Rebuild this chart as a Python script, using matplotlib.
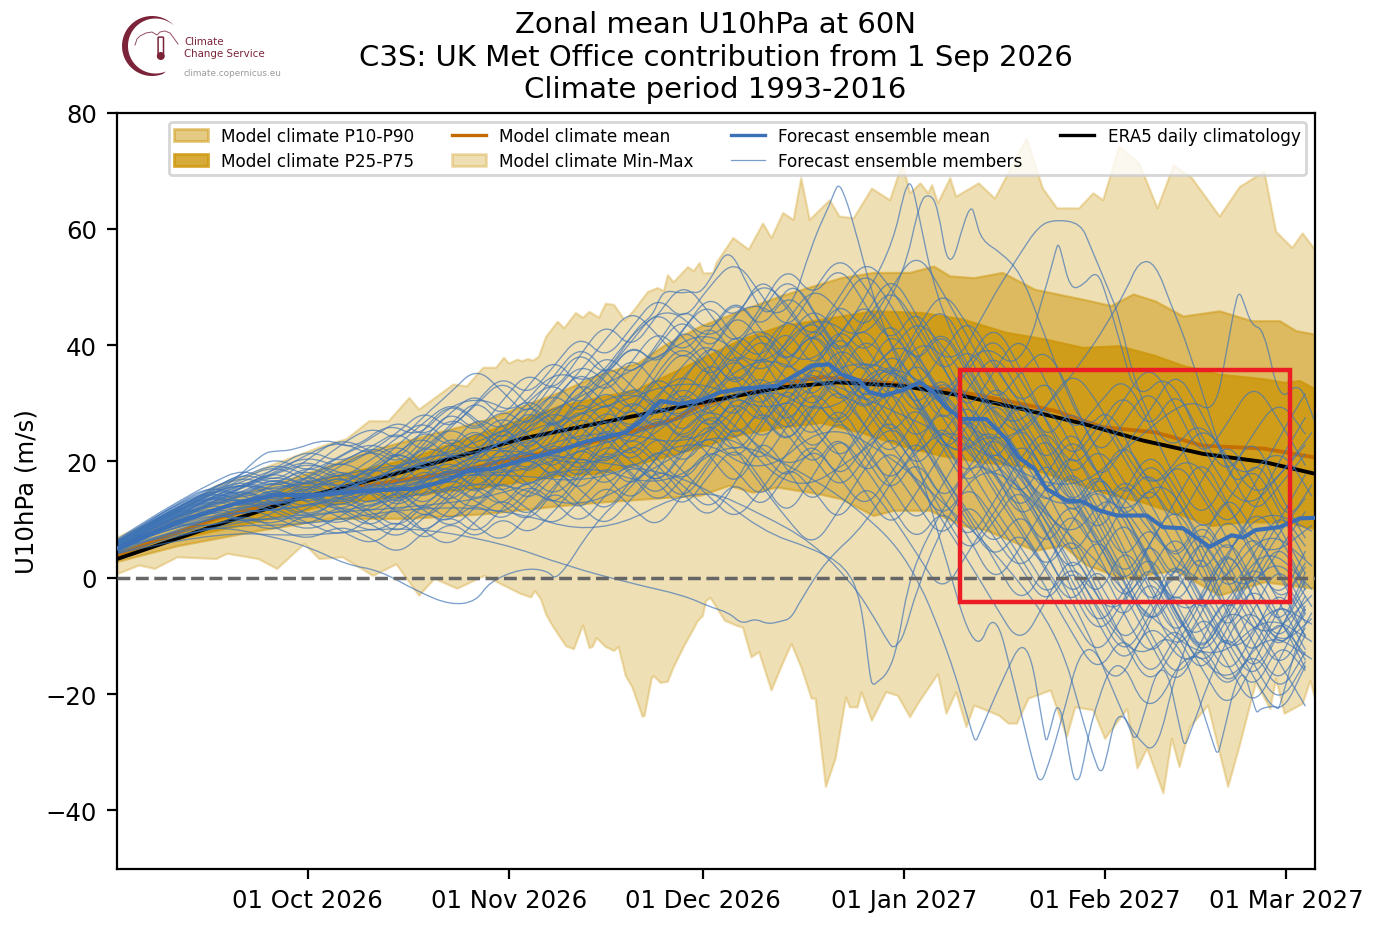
#!/usr/bin/env python
import numpy as np
import pandas as pd
import matplotlib
matplotlib.use('Agg')
import matplotlib.pyplot as plt
import matplotlib.dates as mdates
from matplotlib.patches import Patch, PathPatch, Rectangle, Circle, FancyBboxPatch
from matplotlib.path import Path
from matplotlib.lines import Line2D

# all series are (days since 1 Sep 2026, m/s)
max_days = [0.5,5.7,11,15.8,20.5,24,28.8,32.9,35.9,39.4,42.4,45.6,47.1,52.4,54.5,57,59,60.2,61,62.3,63,63.9,64.7,65.6,66.7,68.5,69.5,71.3,72.4,73.4,74.9,75.9,77.2,78.9,80.3,82.4,83.9,84.9,85.5,86.4,88.6,89.5,90.4,91,92.5,93,95.6,98,100.2,101.5,103.3,104.9,106.1,107.4,110.5,112,114.2,117,119.8,121.7,122.9,124.5,125.7,126.3,127.2,129.1,130,133.5,136,140.9,143.4,145.6,149,151.2,152.7,155.2,158.3,161.1,163.6,166.4,168.5,170.7,173.8,177.6,179.4,181.9,183.5,185.4]
max_vals = [7,9.6,12.4,15.9,17.6,19.3,21.3,23,23.9,27,27,31,29,33.3,33,36.2,36.2,37.9,36.9,37.6,37.3,37.7,37.4,38.1,41.5,44.1,43,45.6,44.8,45.8,44.8,47.2,47,44.3,46.1,49.2,49.9,49.4,52.1,50.9,53.5,52.8,54.2,52.4,52.5,54.2,58.5,56.5,61,58.5,62.8,61.6,68.8,61.6,65,62.2,61.9,67,65,71.3,66.2,67.9,66.2,67.6,64.5,68.8,65.6,67.9,65.3,75.6,67,63.6,63.6,66.2,65,74.2,71.3,63.6,71,68.8,65.6,62.2,67.3,69.9,59.6,56.8,59.3,56.5]
min_days = [0.5,3.9,6.3,9.8,15.8,17.5,22.3,25.2,29.4,31.7,35.3,40,43.6,47.1,49.5,53,57.2,62.8,64.4,65,65.9,66.7,67.7,69.8,71,72.4,73.4,73.9,74.5,75.9,77.2,77.9,79,80,81.6,81.9,83,83.3,84.4,85.5,86.4,88,89.5,90.1,90.9,91.4,92.1,94.3,96.2,97.1,98.4,99.6,101.5,103.3,104.6,106.1,107.7,108.3,109.9,111.4,113,113.6,114.8,115.4,117,119.2,121,122.9,124.1,127.2,128.5,130,131.6,132.8,136.6,138.1,139.4,141.2,144.6,147.1,148.4,151.2,153,156.4,158,159.5,162,163.3,164.5,166.1,168.9,172,173.8,176.3,178.5,179.4,180.7,183.5,184.7,185.4]
min_vals = [0.7,2.2,1.6,3.6,3.3,4.2,3.3,1.6,5.9,3.3,3.6,0.4,2.4,-3,-0.1,-1.8,0.4,-2.7,-3.3,-2.2,-3.6,-6.2,-8.2,-11.7,-12.2,-8.1,-12,-11.8,-10.3,-11.8,-12.5,-11.8,-16.8,-18.7,-23.8,-23.7,-17.3,-16.8,-18,-17.8,-15.3,-11.7,-8.7,-7.4,-6.5,-3.9,-3.4,-7.3,-8.2,-8.5,-13.6,-12.7,-19.3,-14.5,-11.3,-15.3,-20.7,-20.7,-35.9,-31,-20.5,-22.2,-22.2,-19.6,-24.5,-19.6,-20.2,-23.9,-21.6,-16.5,-23.3,-19.6,-25.6,-21.9,-23.6,-25,-25,-20.7,-19.3,-27.3,-22.2,-22.7,-27.6,-22.5,-32.7,-29.3,-37,-27.6,-32.5,-25.6,-21.9,-35.9,-28.7,-17.9,-22.5,-17.3,-23.3,-21.6,-17.6,-20.7]

p90_days = [0.5,5,10,15,20,25,30,35,40,50,57,63,69,75,81,85,90.6,97,103,112.3,117.3,122.9,126.6,129.1,132.8,137.2,142.2,149.6,154,157.4,160.8,165.1,170.7,175.7,180,182.5,185.4]
p90_vals = [5.4,8,10.5,13,14.5,16.2,18,20,22,25,27,29.5,32,35,37,40,43.3,46,48.5,51.6,52.5,52.5,53.6,51.9,51.6,52.5,49.6,47.9,46.8,48.8,47.6,45,45.9,44.2,44.2,42.5,41.9]
p75_days = [0.5,9.8,27.6,45.3,57,69,80.8,90.6,96.8,103,112.3,117.3,124.8,131,137.8,144,149.6,155.2,160.8,165.1,170.7,177.6,180.7,183.1,185.4]
p75_vals = [4.5,8,15.9,20.4,25,29.6,32.4,37.6,41,43.3,45,45.9,45.6,44.5,42.2,41,39.6,39.9,38.2,36.5,35,34.2,33.6,33.9,32.5]
p25_days = [0.5,9.8,21.7,33.5,45.3,57.2,69,75,81,90.6,96.8,103,109.2,115.4,121.7,127.9,134,140.3,146.5,152.7,158.9,165.1,169.5,174.4,180.7,185.4]
p25_vals = [3.6,6.7,9.6,12.7,14.2,15.6,17.6,18,19.6,22.5,24.7,25.9,26.7,25,22.7,21,19.9,19.3,17,14.7,13,10.7,9,9.6,9.6,8.5]
p10_days = [0.5,9.8,21.7,33.5,45.3,57.2,69,75,90.6,95,98.7,102.4,108.6,112.3,117.3,120.4,126,131,134.7,142.2,146.5,150.2,155.8,163.9,170.7,177.6,185.4]
p10_vals = [2.8,5.5,8,10.2,10.2,11,12.4,13,14.2,15.9,14.7,15.6,14.5,13.6,10.7,11.6,11.6,9,8.2,4.7,5.6,2.2,-0.1,1.3,-3,-0.7,-1.8]

clim_mean_days = [0.5,15.8,27.6,39.4,51.3,63,75,86.8,90.6,100,109.2,118.6,127.9,134,145.3,152.7,160.8,168.2,177.6,185.4]
clim_mean_vals = [3.9,10.2,13.6,15.9,17.9,20.7,23.6,27.3,29.6,32.5,34.5,33.6,32.5,31.3,28.7,25.9,25,22.7,22.2,20.7]
era5_days = [0.5,15.8,27.6,45.3,63,89.7,103,111.7,121.7,131,140.3,149.6,158.9,168.2,177.6,185.4]
era5_vals = [3.2,9,13.3,18.4,23.9,29.9,32.7,33.6,33,31.3,29,26.5,23.6,21.3,19.9,17.9]

ens_days = [0.5,9.8,18.7,24.6,31.1,39.4,46.5,51.3,54.8,58.4,63.1,69,72.6,79.1,81.4,84.4,87.3,90.6,93.7,96.8,102.4,105.5,108,110.5,112.3,115.1,116.7,118.9,121.7,124.5,126.6,128.5,131,134.7,137.8,139.7,142.2,144,147.1,149.6,152.1,154.9,159.5,162,165.1,169.2,172.6,174.4,176.3,180,183.1,185.4]
ens_vals = [5,9.6,12.7,14.2,14.2,15,15.3,16.7,18.4,18.7,20.2,21.9,23.3,25,27,30.4,29.9,30.5,31.9,32.5,33,35,36.5,36.7,35,33.9,31.9,31.3,32.2,33.6,31.9,29.3,27.3,27.3,23.9,20.7,18.7,15.3,13.3,13.1,11.6,10.7,10.7,8.7,8.5,5.3,7.3,6.9,8.2,8.7,10.2,10.3]

# most members share this day grid
member_days = [0,5,10,15,20,25,30,35,40] + list(range(44, 185, 4))
m01 = [5.0,8.6,11.2,13.5,15.6,17.9,19.8,18.1,16.4, 19.2,22.7,21.0,17.6,20.4,25.3,28.8,26.1,22.4,25.9,31.7,35.2, 31.4,27.0,33.5,41.2,46.8,42.1,35.3,38.9,44.6,40.0,33.2,28.4, 24.1,29.5,35.8,30.2,21.6,15.3,19.7,26.4,21.0,13.8,17.5,22.9]
m02 = [4.2,7.4,9.1,10.8,10.2,9.0,12.1,14.3,11.2, 8.4,12.6,15.9,13.0,10.7,14.8,19.2,16.1,21.5,27.3,23.8,19.1, 24.6,31.8,28.0,22.5,29.7,36.4,31.0,25.8,18.2,24.9,30.6,23.1, 15.2,8.3,-2.5,-10.1,-4.2,6.3,12.8,4.1,-6.7,-14.2,-5.0,2.6]
m03 = [5.8,9.1,12.3,14.9,16.7,14.8,17.2,21.0,23.4, 20.6,18.1,22.3,27.9,25.0,30.4,33.8,29.1,34.9,40.2,36.6,43.1, 47.5,41.0,37.2,44.3,50.1,46.2,39.7,33.4,41.8,47.0,38.5,29.6, 35.4,39.9,31.2,20.3,26.8,33.1,24.6,14.9,8.2,15.6,24.3,31.7]
m04 = [4.8,7.9,10.1,12.7,11.5,13.9,10.8,8.9,12.4, 15.1,11.3,9.2,14.7,19.6,16.2,12.0,17.8,23.4,20.1,15.7,22.2, 28.9,24.3,19.4,26.1,32.7,27.5,20.8,14.1,21.0,12.7,18.9,25.2, 17.6,9.4,1.2,-7.9,-15.3,-8.1,3.7,-3.6,-12.4,-20.1,-10.7,-16.0]
m05 = [5.5,8.3,11.8,14.2,17.1,19.4,16.5,14.1,18.2, 21.7,24.5,20.3,23.9,28.1,24.6,20.7,27.2,32.9,38.4,33.0,29.4, 35.7,42.6,38.1,30.9,36.3,29.4,34.8,43.0,36.2,27.1,21.4,16.8, 23.9,18.0,10.6,4.3,12.9,20.7,14.1,5.2,-3.0,3.9,11.7,5.4]
m06 = [4.4,7.0,8.8,9.9,12.2,10.3,7.9,10.4,14.1, 11.2,7.4,11.8,16.4,12.6,9.3,14.9,21.7,17.3,12.8,18.4,25.6, 21.1,15.3,22.7,30.1,37.2,31.6,26.2,20.4,27.8,34.9,28.3,35.8, 42.1,33.7,24.5,29.8,35.0,26.3,16.7,9.8,17.1,24.9,14.2,6.8]
m07 = [5.1,8.9,11.5,14.7,13.4,16.2,18.9,15.3,12.1, 16.8,20.9,17.0,21.3,26.4,22.0,18.2,24.1,29.3,25.2,30.8,36.9, 40.8,34.1,28.7,35.2,30.3,37.4,45.1,52.4,45.2,36.8,27.0,18.3, 9.6,15.2,22.3,14.0,4.9,-4.2,-13.0,-6.3,3.8,12.1,7.3,-1.4]
m08 = [5.9,9.4,12.9,15.8,14.0,12.3,15.0,18.4,15.2, 13.0,17.2,14.1,11.4,16.9,22.3,19.1,14.5,19.8,15.2,20.7,27.8, 33.6,38.2,33.0,26.4,20.8,14.9,20.3,28.7,35.1,28.8,37.4,44.0, 36.1,26.7,18.4,24.0,30.7,37.1,29.5,20.2,26.6,33.8,27.0,19.3]
m09 = [4.0,6.8,9.9,11.6,9.3,11.2,14.7,12.0,9.0, 6.6,10.4,14.3,18.9,15.0,11.8,8.7,13.3,18.0,23.6,19.4,14.3, 9.8,16.2,24.5,18.7,12.1,19.3,26.9,33.0,25.8,17.9,10.4,3.1, -4.9,1.8,9.7,16.3,8.0,-1.2,-9.6,-17.2,-8.4,-0.9,-7.6,-13.3]
m10 = [5.3,8.0,10.7,13.9,16.0,18.1,21.3,23.6,20.8, 24.3,27.1,23.0,19.7,24.0,29.2,25.1,31.6,36.8,33.2,28.1,34.9, 38.6,45.8,40.9,34.6,41.2,48.3,54.9,50.1,42.3,34.7,40.1,32.9, 25.3,17.4,11.0,18.3,12.0,5.7,-1.8,6.2,14.9,8.1,0.7,-6.2]
m11 = [4.6,7.6,9.6,11.1,13.6,11.9,9.4,7.0,10.3, 13.7,16.3,12.9,8.8,5.9,10.7,15.7,20.6,26.4,21.9,17.6,13.0, 19.5,26.3,33.1,28.5,23.6,30.2,22.8,15.6,8.9,15.9,23.7,31.1, 24.4,14.9,6.5,-2.1,-11.2,-18.9,-11.8,-4.1,5.6,-3.2,-12.8,-6.1]
m12 = [5.6,8.8,11.0,12.4,14.4,16.8,13.9,11.2,14.9, 18.7,22.4,26.1,22.9,18.6,15.0,20.1,25.8,30.6,27.1,35.6,40.3, 35.0,28.9,23.2,28.3,35.9,41.7,47.9,40.6,32.1,38.6,45.2,37.0, 29.1,34.8,26.4,16.2,22.1,28.7,36.0,28.4,19.1,10.6,15.8,21.3]
m13 = [4.9,8.2,10.4,13.0,15.1,13.0,15.9,12.9,16.8, 14.0,9.9,13.6,17.9,22.8,19.3,23.7,19.5,15.2,20.7,16.3,11.7, 17.8,23.0,16.9,10.2,17.6,24.8,19.0,12.4,5.8,12.3,6.1,13.2, 20.6,26.2,18.1,9.4,0.8,-8.6,-2.7,5.3,-5.4,-15.1,-22.0,-14.4]
m14 = [5.4,9.2,12.1,15.3,17.9,20.8,18.0,20.9,24.1, 27.2,24.0,28.4,31.9,27.3,33.1,37.9,32.9,28.0,33.9,39.8,45.1, 38.6,44.9,51.0,47.3,40.2,33.9,27.9,35.0,42.7,49.8,43.3,36.2, 30.0,22.8,14.2,7.1,14.8,22.1,15.6,7.3,13.2,19.8,11.4,3.2]
m15 = [4.3,7.2,9.4,8.7,11.0,8.6,6.3,9.2,6.7, 3.9,8.0,11.0,7.2,11.9,16.3,13.2,8.9,14.2,19.9,15.9,21.4, 27.2,22.1,15.9,10.0,5.1,11.6,18.8,25.2,18.9,11.2,3.8,9.9, 16.1,7.9,-0.6,-8.9,-2.3,4.9,-4.4,-12.7,-19.8,-12.2,-3.4,-9.9]
m16 = [5.7,8.5,11.6,14.0,12.8,15.6,12.4,15.8,19.4, 16.1,19.8,24.7,21.2,26.8,31.2,27.0,22.6,27.9,33.4,29.6,24.2, 30.3,36.9,43.0,37.4,31.4,25.1,31.9,39.4,33.6,25.9,32.7,39.1, 31.8,23.1,29.7,21.9,13.1,19.1,10.9,2.2,-6.8,0.4,7.9,13.7]
m17 = [4.7,7.7,10.9,12.1,14.1,16.9,15.1,17.7,14.3, 10.9,14.6,18.4,15.3,11.9,17.6,13.7,18.2,24.6,29.9,25.0,31.2, 26.1,20.9,26.7,33.6,26.8,21.3,14.8,8.3,14.6,21.8,28.6,20.4, 12.3,4.2,-3.9,3.2,10.6,2.8,-6.1,-13.9,-7.2,1.9,9.9,17.8]
m18 = [5.2,8.4,12.0,15.0,18.2,15.9,19.4,16.7,20.6, 23.1,19.2,16.1,20.6,25.6,21.4,26.9,34.2,29.9,24.4,30.0,26.7, 32.8,39.1,34.8,39.7,44.9,38.7,30.6,24.0,30.3,22.3,15.2,22.7, 17.0,10.9,3.1,10.4,17.9,11.9,20.6,14.2,6.7,-1.9,4.9,11.4]
m19 = [4.5,6.9,9.2,11.9,9.8,7.8,11.3,8.1,5.4, 9.3,13.1,9.6,13.0,9.4,13.9,18.8,15.3,10.9,16.9,22.8,18.1, 13.9,9.7,15.0,21.4,27.7,33.2,26.1,19.2,12.7,6.3,13.6,6.8, 0.9,7.2,13.6,6.3,-2.8,-11.1,-19.2,-10.9,-2.1,-11.6,-18.9,-9.8]
m20 = [6.2,9.8,13.1,16.2,18.8,16.3,20.4,24.1,21.7, 18.0,23.2,27.8,24.8,29.3,25.8,30.1,35.9,31.3,37.2,42.9,38.2, 44.1,37.9,31.9,25.8,33.2,40.1,36.1,29.1,23.1,29.7,35.8,42.2, 33.9,27.2,20.1,25.9,32.3,24.9,32.9,24.1,17.2,25.1,30.8,24.7]
m21 = [5.0,8.1,10.0,11.7,13.3,11.4,8.6,12.8,9.7, 12.2,7.8,5.2,9.9,14.0,10.1,15.4,11.2,16.4,12.0,8.3,14.6, 20.1,26.9,21.7,16.4,22.9,17.3,11.6,17.9,24.6,16.9,9.2,2.9, 8.6,1.1,-6.8,-13.9,-6.0,1.3,8.1,0.6,-8.9,-16.8,-8.9,-1.8]
m22 = [4.1,7.1,9.7,12.9,15.4,18.9,22.1,19.6,22.8, 20.0,25.8,30.1,26.9,22.1,26.7,32.0,36.9,33.9,29.0,25.1,30.7, 37.8,32.7,38.9,34.1,28.6,34.9,41.8,36.6,29.7,21.2,26.1,33.9, 28.1,20.3,12.8,6.0,-1.7,5.8,13.3,21.1,12.8,4.3,-4.9,1.9]
m23 = [5.5,8.7,10.3,12.2,10.6,13.1,16.3,13.6,10.6, 7.3,11.9,8.2,12.2,17.1,21.2,16.9,12.3,8.6,13.6,18.9,16.0, 11.2,17.1,11.4,18.1,23.9,16.6,22.6,27.9,20.9,13.4,7.1,-1.3, 5.2,12.6,19.2,12.1,3.7,-5.3,1.2,9.1,1.4,-7.3,-14.6,-22.1]
m24 = [4.9,7.3,10.6,13.7,16.5,14.2,11.7,16.1,18.7, 22.1,17.9,20.2,16.7,21.4,18.1,22.8,28.3,23.9,19.4,24.9,20.4, 25.7,30.8,26.1,31.4,25.9,19.9,25.3,31.2,37.9,31.1,24.2,17.4, 11.2,17.7,24.7,18.2,9.2,16.6,8.9,16.9,24.0,16.2,8.6,0.7]
m25 = [5.8,9.0,11.9,10.9,13.8,12.2,14.4,17.9,13.8, 16.6,13.2,17.6,14.0,18.1,23.0,27.4,23.1,19.8,24.3,28.9,33.3, 29.0,23.8,29.2,24.9,18.6,25.3,17.1,22.6,16.3,9.8,16.4,10.2, 3.6,-3.9,2.9,-4.1,6.2,-1.9,-10.8,-2.8,5.9,-3.8,-11.7,-3.1]
m26 = [4.4,7.8,11.4,14.4,12.6,15.2,13.1,10.3,7.6, 10.1,6.1,9.9,6.4,10.8,7.1,11.3,16.7,22.0,17.6,12.4,17.3, 22.4,18.7,13.2,19.6,15.2,9.1,16.6,10.9,4.2,-2.9,4.6,11.3, 18.4,25.1,16.7,22.9,16.8,9.1,2.7,11.2,3.1,11.7,20.1,27.6]
m27 = [5.6,9.1,12.4,14.6,16.2,15.0,13.2,15.7,19.1, 22.9,26.8,30.2,27.4,23.1,28.9,34.8,40.1,35.6,30.2,36.8,43.3, 38.4,32.1,38.7,45.2,39.8,46.6,53.1,47.2,38.9,30.1,23.2,15.9, 8.8,1.6,-5.3,2.9,-6.4,-14.1,-7.6,-15.8,-8.9,-17.2,-24.3,-15.1]
m28 = [5.2,8.8,12.2,14.9,13.1,11.0,14.6,11.7,15.9, 19.9,16.0,12.6,17.3,22.6,27.7,32.1,27.8,32.7,28.1,34.2,39.6, 33.9,39.2,45.7,52.1,46.1,38.1,43.9,35.8,28.7,35.6,26.9,19.8, 13.4,20.8,13.7,6.9,-0.9,-8.7,-1.4,-9.2,-17.3,-9.8,-1.1,-10.3]
m29 = [6.0,9.6,12.6,15.1,14.3,17.4,14.2,11.6,8.3, 12.9,17.4,22.0,18.1,14.1,18.6,24.2,29.6,24.9,20.1,26.4,32.8, 26.7,34.4,28.3,22.8,28.9,35.8,29.2,23.0,16.8,9.7,2.8,-4.6, -11.8,-3.9,4.7,-3.1,-11.9,-4.9,3.9,-5.2,-13.3,-5.6,2.8,-5.7]
m30 = [4.8,8.4,11.3,13.8,15.9,18.4,15.4,18.9,15.7, 12.3,16.4,20.9,25.7,21.8,17.3,22.3,17.7,23.6,29.4,35.1,30.6, 24.9,31.2,37.3,43.4,35.4,42.3,36.7,30.1,37.6,43.1,35.7,27.9, 21.1,13.9,20.9,28.1,20.6,12.9,4.9,-3.4,-11.1,-18.1,-9.2,-0.4]
m31 = [5.4,8.9,11.7,14.1,12.0,14.4,17.1,20.3,17.3, 14.8,11.1,15.4,20.2,16.6,21.1,16.8,22.4,28.1,23.4,28.6,23.2, 29.8,35.9,30.7,24.3,31.0,25.7,33.3,26.9,20.0,27.3,19.2,11.8, 5.4,-1.7,-9.6,-16.8,-9.1,-17.8,-10.1,-1.7,-9.9,-1.2,6.6,-2.1]
m32 = [5.1,8.5,11.1,13.3,15.3,12.7,9.9,13.7,17.9, 21.9,18.6,23.9,20.1,25.2,30.1,26.3,21.3,25.7,31.1,26.9,33.8, 40.6,36.0,41.8,36.3,42.9,36.8,29.9,36.7,31.2,23.8,16.9,24.1, 31.4,24.3,16.9,9.6,17.4,9.9,2.1,10.3,2.6,-5.9,-13.1,-4.8]
m33 = [5.7,9.3,12.7,15.5,17.4,19.7,17.6,14.7,11.4, 15.6,12.1,16.7,12.8,17.1,12.9,17.4,22.9,18.9,24.8,20.3,16.1, 22.1,28.1,34.3,27.9,21.1,27.9,21.9,15.9,22.6,29.8,22.4,14.7, 7.9,0.9,7.9,-0.6,-8.1,0.8,-7.9,-15.6,-23.1,-14.7,-6.1,-14.2]
m34 = [4.7,8.0,10.8,13.1,14.7,12.9,10.4,13.4,10.9, 14.9,19.1,15.4,19.8,24.3,20.3,25.3,30.8,26.6,22.2,28.3,22.9, 28.6,22.7,29.6,36.7,42.8,35.6,29.2,34.6,27.4,32.8,25.8,19.2, 26.9,19.6,11.9,18.9,11.1,3.3,-5.7,2.9,11.4,3.6,-4.3,-12.4]
m35 = [5.3,8.7,11.4,14.3,16.4,13.6,16.6,19.9,22.6, 25.4,21.1,25.9,29.7,34.2,29.8,25.3,29.9,35.3,40.7,46.2,41.2, 36.2,30.4,35.4,29.7,36.1,43.6,37.9,44.8,37.2,30.9,24.7,31.9, 25.2,17.8,10.1,16.8,23.9,16.3,8.1,-0.1,7.7,-0.8,-9.1,0.9]
m36 = [4.9,8.3,10.9,12.6,14.9,17.3,14.8,12.4,15.3, 11.8,15.8,19.3,14.9,19.7,24.7,20.6,16.6,22.7,17.9,13.6,19.8, 25.1,19.6,25.9,32.3,38.3,32.3,38.2,31.8,24.3,17.6,11.3,4.9, 11.9,4.8,12.2,4.1,-4.9,3.2,-5.8,-13.1,-5.9,1.6,-6.9,-15.6]
m37 = [5.5,8.9,12.1,14.4,16.6,18.6,21.0,18.8,21.9, 25.1,28.9,25.3,30.2,34.9,31.1,36.4,41.9,37.4,43.1,48.6,43.9, 50.2,54.8,48.7,42.1,49.3,55.6,50.3,43.1,36.4,42.9,34.6,26.7, 19.1,11.8,18.9,10.7,2.3,9.9,1.7,-6.9,0.9,8.3,0.4,-7.8]
m38 = [5.0,8.2,11.5,13.6,15.4,17.7,15.7,19.3,22.1, 19.4,23.9,28.9,24.9,30.4,35.6,31.7,38.3,44.1,39.1,45.3,50.9, 45.6,39.3,46.8,53.9,47.9,54.1,47.1,39.8,46.9,38.3,30.2,23.9, 30.7,23.7,15.8,8.1,-0.6,7.1,-1.2,7.6,-0.8,-8.7,-16.1,-8.6]
m39 = [5.9,9.2,11.9,14.8,17.6,15.3,18.4,22.9,26.1, 23.4,27.9,31.8,36.2,32.1,27.6,33.7,39.3,34.2,40.6,36.1,42.7, 48.9,43.9,52.3,46.1,40.7,47.9,42.2,49.7,56.3,49.2,41.1,33.3, 26.6,19.2,26.3,17.8,9.8,2.1,-5.9,-13.6,-5.1,3.1,-4.2,4.6]
m40 = [4.6,7.9,11.1,13.4,11.9,14.7,17.9,14.9,18.3, 21.3,25.7,22.1,26.1,20.9,25.9,30.8,35.4,41.1,46.3,41.7,36.9, 42.4,48.3,42.8,36.2,43.9,37.9,44.1,50.2,43.7,36.1,29.3,22.1, 14.6,7.4,0.2,7.8,-0.4,-9.3,-17.9,-10.8,-19.4,-11.9,-20.3,-12.7]
m41 = [5.1,8.6,12.0,13.2,15.7,18.0,20.4,17.2,13.9, 17.9,21.6,26.3,30.9,26.1,21.9,27.7,33.3,38.7,34.4,40.2,46.9, 41.8,48.1,42.4,49.2,44.3,37.1,30.9,37.9,30.7,23.6,16.2,8.7, 1.9,-5.1,2.4,-5.8,-13.8,-6.6,1.9,-7.1,-14.9,-22.8,-13.9,-5.4]

# members that can be followed by eye, with their own days
traced_1 = ([0,8,16,24,30,36,41,47,52,56,58,63,67,68.5,74,79,85,92,98,105,112,118,124,130,136,142,148,154,160,166,172,178,185],
            [4.6,7.5,8.9,7.2,5.4,2.2,1.3,-2.4,-4.7,-4.1,-0.7,1.6,1.3,-0.7,9,14.5,22,30,24,18,27,38,30,20,26,15,5,-8,3,-12,-4,6,-2])
traced_2 = ([0,6,12,18,23,25,27.6,32.9,37,42.4,47,51.8,57,62,68,74,80,86,92,98,104,108,110.5,111.5,112,112.6,114,118,124,130,136,142,148,154,160,166,172,178,185],
            [6,9.5,12.8,16,21.4,21.8,21.9,24,22,26.7,24,29.6,31,28,36,33,42,47,40,48,44,58,64,67,67.5,66.5,62,45,30,20,27,14,6,16,2,-8,5,12,8])
traced_3 = ([0,10,20,30,40,50,60,70,80,88,94,100,106,112,117,120.4,122,122.6,122.9,123.4,124,127,132,138,144,150,156,162,168,174,180,185],
            [5,11,14,13,17,22,19,27,33,26,38,44,36,41,50,58,66,67.5,67.9,67,64,48,36,25,31,18,10,18,6,-3,4,-5])
traced_4 = ([0,12,24,36,48,60,72,84,92,100,108,116,122,124.5,126,127.2,129,131.5,132.5,133,134,137,140,143,146,150,154,160,166,172,178,185],
            [5,10,15,18,20,25,31,38,43,35,46,40,52,65,66,64,52,62,63.9,62,58,55.9,52.5,44,35,25,30,14,22,12,3,9])
traced_5 = ([0,15,30,45,60,75,90,100,110,118,124,130,135,139.7,142.8,145.3,149.3,150.8,154,155.2,158,163,168,174,180,185],
            [5,12,13,19,23,18,30,39,33,28,42,36,47,55.3,60.5,61.6,61,57,48.5,45,32,21,28,16,23,14])
traced_6 = ([0,15,30,45,60,75,90,100,110,120,128,134,140,144.6,145.6,145.9,146.3,147.7,149.6,151.8,153.3,155,158,163,169,175,181,185],
            [4,11,12,16,20,26,22,34,27,38,30,41,35,52.5,57,57.3,56,49.6,50.2,53,48.5,42,30,36,20,11,19,25])
traced_7 = ([0,15,30,45,60,75,90,102,114,126,136,144,150,153,156.4,158.3,160.8,163.3,165.8,170,173,177,181,185],
            [6,13,17,14,24,29,35,27,39,32,22,29,38,43,49.6,54.5,54.2,46.8,40,25,15,21,9,16])
traced_8 = ([0,15,30,45,60,75,90,105,120,135,148,158,166,170,172,173.3,173.8,174.3,175.7,177.6,180,183,185.4],
            [5,12,15,20,17,23,28,36,29,21,14,24,31,28,40,48,49,48,43.3,42.8,30,34,27])
traced_9 = ([0,15,30,45,60,72,85,95,105,115,122,128,133.1,136,139,142.4,143.1,143.8,146,150,155,160,166,172,178,185],
            [5,10,10,14,17,11,20,26,14,21,28,5,-14,-5,-18,-34,-35,-34,-26,-9,-20,-6,-17,-4,-11,-3])
traced_10 = ([0,15,30,45,60,72,85,95,105,115,123,129,132.6,133.1,133.6,137,141,143.7,144,144.4,146,148,148.7,149.4,151,155,160,166,172,178,185],
             [4,9,11,12,14,20,15,24,19,12,3,-13,-27,-28.2,-27,-18,-9,-27,-28.2,-27,-20,-34,-35,-34,-24,-12,-25,-11,-19,-9,-14])
traced_11 = ([0,15,30,45,60,75,90,100,110,120,130,138,146,150,151.8,152.4,153,155,158,161,164,168,173,179,185],
             [5,11,12,17,18,16,25,17,27,21,11,2,-10,-26,-32.5,-33.4,-32.5,-22,-27.6,-30.5,-16,-5,-14,-4,-8])
traced_12 = ([0,15,30,45,60,70,80,88,92,95,97,99,101,103,104.6,106,110,116,122,130,140,150,160,170,178,185],
             [4,8,7,9,6,2,-1,-3,-5,-6,-8,-7,-8,-7.5,-7,-4,3,9,20,27,15,5,-7,-15,-6,-11])
traced_13 = ([0,15,30,45,60,75,90,100,108,113,115.4,116.8,117.3,117.8,119.5,121,123,128,134,142,150,157.2,157.7,158.2,162,165,165.4,165.8,170,175,180,185],
             [5,11,14,15,22,20,17,8,5,2,-3.6,-17.5,-18.5,-18,-16.5,-12,1,12,22,8,-8,-27,-27.6,-27,-12,-28,-28.7,-28,-15,-4,-12,-7])
traced_14 = ([0,15,30,45,60,75,90,100,108,114,117,119.8,120.4,121,122,124,128,134,142,150,158,164,170,170.4,170.8,174,176.2,176.6,177,179.3,179.7,180.1,183,185],
             [5,9,9,12,12,7,16,11,6,-1,-6,-11.5,-12,-11.5,-10,-2,9,20,14,-2,-15,-8,-29.5,-30.2,-29.5,-14,-22.5,-23.3,-22.5,-22,-22.7,-22,-10,-6])
traced_15 = ([0,12,24,36,48,60,70,76,80.9,83.2,84.4,85.5,87.5,89,90.6,92.5,95,98,101,105,110,116,122,130,138,146,154,162,170,178,185],
             [5,11,14,15,17,23,30,35,43.2,45,48.4,49.4,48.9,49.2,48.9,52,57,50,44,52,42,34,42,28,20,11,17,5,-3,9,2])

members = [m01,m02,m03,m04,m05,m06,m07,m08,m09,m10,m11,m12,m13,m14,m15,m16,m17,m18,m19,m20,m21,m22,m23,m24,m25,m26,m27,m28,m29,m30,m31,m32,m33,m34,m35,m36,m37,m38,m39,m40,m41]
traced = [traced_1,traced_2,traced_3,traced_4,traced_5,traced_6,traced_7,traced_8,traced_9,traced_10,traced_11,traced_12,traced_13,traced_14,traced_15]

labels_x = ['2026-10-01','2026-11-01','2026-12-01','2027-01-01','2027-02-01','2027-03-01']

box_days = [130.7, 181.6]
box_vals = [-4.1, 35.7]

GOLD = '#cd960a'
MEMBER = '#3f74b5'
ENS = '#3b6fb6'
RED = '#ed1c24'
WINE = '#7b2339'
start = pd.Timestamp('2026-09-01')

def to_dates(days):
    return start + pd.to_timedelta(np.asarray(days, dtype=float), unit='D')

def band(ax, d1, v1, d2, v2, alpha):
    grid = np.union1d(d1, d2)
    ax.fill_between(to_dates(grid), np.interp(grid, d1, v1), np.interp(grid, d2, v2),
                    color=GOLD, alpha=alpha, linewidth=0.8)

def member_line(ax, days, vals):
    # round stroke through the read values, quadratic bezier segments
    x = mdates.date2num(to_dates(days))
    pts = np.column_stack([x, vals])
    mids = (pts[1:] + pts[:-1]) / 2
    verts = [pts[0]]
    codes = [Path.MOVETO]
    for i in range(1, len(pts) - 1):
        verts += [pts[i], mids[i]]
        codes += [Path.CURVE3, Path.CURVE3]
    verts.append(pts[-1])
    codes.append(Path.LINETO)
    ax.add_patch(PathPatch(Path(verts, codes), fill=False, ec=MEMBER, lw=0.48,
                           alpha=0.68, zorder=2.5))

def draw_logo(fig):
    # small logo top left, in pixel coordinates
    lax = fig.add_axes([0, 0, 1, 1], zorder=5)
    lax.set_xlim(0, 1380)
    lax.set_ylim(937, 0)
    lax.axis('off')
    a = np.radians(np.linspace(48, 292, 80))
    xo, yo = 152 + 30 * np.cos(a), 47 - 30 * np.sin(a)
    xi, yi = 155.5 + 27.5 * np.cos(a[::-1]), 47 - 27.5 * np.sin(a[::-1])
    lax.fill(np.r_[xo, xi], np.r_[yo, yi], color=WINE, lw=0)
    cloud_x = [135,137,140,146,152,157,160,165,170,173,178]
    cloud_y = [46,40,37,34,33,36,33,32,34,38,45]
    lax.plot(cloud_x, cloud_y, color=WINE, lw=0.35, alpha=0.8)
    lax.add_patch(FancyBboxPatch((159, 39), 3.6, 15, boxstyle='round,pad=0.9',
                                 fc='white', ec=WINE, lw=0.55))
    lax.add_patch(Circle((160.8, 57), 4, color=WINE, lw=0))
    lax.text(184, 42, 'Climate', color=WINE, fontsize=3.7, va='center')
    lax.text(184, 54, 'Change Service', color=WINE, fontsize=3.7, va='center')
    lax.text(183, 74, 'climate.copernicus.eu', color='#9a9a9a', fontsize=3.2, va='center')

def main():
    fig = plt.figure(figsize=(6.9, 4.685), dpi=200)
    ax = fig.add_axes([116.5/1380, 1-869.5/937, 1198/1380, 756/937])

    band(ax, min_days, min_vals, max_days, max_vals, 0.3)
    band(ax, p10_days, p10_vals, p90_days, p90_vals, 0.5)
    band(ax, p25_days, p25_vals, p75_days, p75_vals, 0.8)

    ax.plot(to_dates(clim_mean_days), clim_mean_vals, color='#c36a00', lw=1.4, alpha=0.9, zorder=2.2)
    ax.plot(to_dates(era5_days), era5_vals, color='black', lw=1.4, zorder=2.3)

    for m in members:
        member_line(ax, member_days[:len(m)], m)
    for d, v in traced:
        member_line(ax, d, v)

    ax.plot(to_dates(ens_days), ens_vals, color=ENS, lw=1.5, zorder=3)
    ax.axhline(0, color='#666666', lw=1.25, ls='--', zorder=3)

    x0, x1 = mdates.date2num(to_dates(box_days))
    ax.add_patch(Rectangle((x0, box_vals[0]), x1-x0, box_vals[1]-box_vals[0],
                           fill=False, ec=RED, lw=1.6, zorder=6))

    ax.set_xlim(to_dates([0.46])[0], to_dates([185.4])[0])
    ax.set_ylim(-50, 80)
    ax.set_xticks([pd.Timestamp(t) for t in labels_x])
    ax.xaxis.set_major_formatter(mdates.DateFormatter('%d %b %Y'))
    ax.set_yticks([-40, -20, 0, 20, 40, 60, 80])
    ax.tick_params(labelsize=8.8)
    ax.set_ylabel('U10hPa (m/s)', fontsize=8.8, labelpad=2.5)
    ax.set_title('Zonal mean U10hPa at 60N\nC3S: UK Met Office contribution from 1 Sep 2026\nClimate period 1993-2016',
                 fontsize=10.5, pad=5.5, linespacing=1.2)

    handles = [
        Patch(color=GOLD, alpha=0.5, label='Model climate P10-P90'),
        Patch(color=GOLD, alpha=0.8, label='Model climate P25-P75'),
        Line2D([], [], color='#c36a00', lw=1.2, label='Model climate mean'),
        Patch(color=GOLD, alpha=0.3, label='Model climate Min-Max'),
        Line2D([], [], color=ENS, lw=1.2, label='Forecast ensemble mean'),
        Line2D([], [], color=MEMBER, lw=0.45, alpha=0.7, label='Forecast ensemble members'),
        Line2D([], [], color='black', lw=1.2, label='ERA5 daily climatology'),
    ]
    leg = ax.legend(handles=handles, ncol=4, fontsize=6.1, loc='upper right',
                    bbox_to_anchor=(0.9925, 0.9875), borderaxespad=0,
                    columnspacing=2.2, borderpad=0.3, labelspacing=0.42)
    leg.set_zorder(10)

    draw_logo(fig)
    fig.savefig('out.png', dpi=200)

if __name__ == "__main__":
    main()
